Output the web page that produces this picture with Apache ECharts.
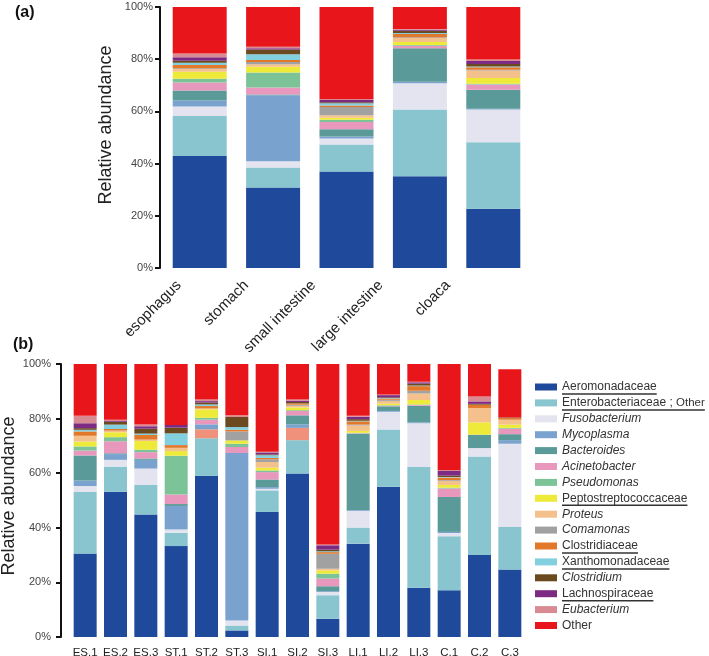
<!DOCTYPE html>
<html><head><meta charset="utf-8">
<script src="https://cdn.jsdelivr.net/npm/echarts@6/dist/echarts.min.js"></script>
<style>html,body{margin:0;padding:0;background:#fff}#c{width:709px;height:656px}</style>
</head><body><div id="c"></div>
<script>
// ---------- categories ----------
const organs = ['esophagus', 'stomach', 'small intestine', 'large intestine', 'cloaca'];
const samples = ['ES.1','ES.2','ES.3','ST.1','ST.2','ST.3','SI.1','SI.2','SI.3','LI.1','LI.2','LI.3','C.1','C.2','C.3'];
const yTicks = [0, 20, 40, 60, 80, 100];

// ---------- panel (a) values (% per organ) ----------
const aeromonadaceaeA     = [42.9, 30.8, 37.0, 35.2, 22.7];
const enterobacteriaceaeA = [15.3, 7.7, 10.3, 25.5, 25.5];
const fusobacteriumA      = [3.7, 2.4, 2.3, 10.1, 12.5];
const unlabeledA          = [0, 0, 0, 0, 0];
const mycoplasmaA         = [2.3, 25.3, 0.8, 0.6, 0.3];
const bacteroidesA        = [3.8, 0.3, 2.8, 12.8, 7.3];
const acinetobacterA      = [3.1, 2.7, 2.7, 1.0, 2.0];
const pseudomonasA        = [1.4, 5.7, 0.9, 0.2, 0.3];
const peptostreptoA       = [2.7, 2.2, 0.8, 1.2, 2.2];
const proteusA            = [1.0, 1.0, 0.9, 1.5, 2.9];
const comamonasA          = [0.3, 0.8, 3.2, 0.3, 0.3];
const clostridiaceaeA     = [1.3, 0.8, 0.6, 1.3, 0.9];
const xanthomonadaceaeA   = [0.8, 2.2, 0.8, 0.3, 0.3];
const clostridiumA        = [0.8, 1.8, 0.4, 0.9, 1.0];
const lachnospiraceaeA    = [1.3, 0.5, 1.0, 0.4, 1.1];
const eubacteriumA        = [1.5, 0.6, 0.2, 0.3, 0.6];
const otherA              = [17.8, 15.2, 35.3, 8.4, 20.1];

// ---------- panel (b) values (% per sample) ----------
const aeromonadaceaeB     = [30.6, 53.2, 44.9, 33.3, 59.0, 2.4, 45.8, 59.9, 6.7, 34.2, 55.0, 18.0, 17.1, 30.0, 24.7];
const enterobacteriaceaeB = [22.6, 9.2, 10.8, 4.9, 13.8, 1.8, 7.9, 12.2, 8.6, 5.9, 21.0, 44.3, 19.8, 36.1, 15.6];
const fusobacteriumB      = [2.1, 2.5, 6.0, 1.2, 0, 1.8, 0.6, 0, 1.2, 6.1, 6.5, 16.0, 1.2, 3.1, 30.5];
const unlabeledB          = [0, 0, 0, 0, 3.3, 0, 0, 4.5, 0, 0, 0, 0, 0, 0, 0];
const mycoplasmaB         = [2.0, 2.1, 3.2, 8.6, 1.8, 61.4, 0.6, 1.3, 0.3, 0.3, 0.3, 0.3, 0.4, 0, 1.3];
const bacteroidesB        = [9.2, 0.3, 0.5, 0.7, 0, 0, 2.8, 3.3, 1.8, 27.9, 1.7, 6.1, 12.8, 4.9, 2.2];
const acinetobacterB      = [1.8, 4.4, 2.3, 3.5, 1.7, 2.2, 2.7, 1.6, 2.8, 0.2, 0.2, 0.3, 3.1, 0, 2.0];
const pseudomonasB        = [1.5, 1.5, 0.9, 14.2, 0.7, 1.2, 0.6, 0.3, 1.8, 0.2, 0.2, 0.2, 0.3, 0, 0.3];
const peptostreptoB       = [1.8, 1.8, 3.2, 1.7, 3.1, 1.2, 1.0, 1.0, 1.2, 0.7, 0.6, 1.6, 1.0, 4.5, 1.2];
const proteusB            = [2.1, 0.6, 0.5, 1.2, 0.3, 0, 2.1, 0.6, 0.6, 2.0, 1.0, 2.4, 1.5, 5.3, 1.8];
const comamonasB          = [0, 0, 0, 0, 0, 3.3, 1.0, 0.4, 5.5, 0.3, 0.4, 1.0, 0.3, 0, 0];
const clostridiaceaeB     = [1.6, 0.6, 1.7, 1.0, 0.9, 0.6, 0.5, 0.5, 0.6, 1.2, 0.4, 1.7, 0.9, 1.2, 0.6];
const xanthomonadaceaeB   = [0.6, 1.6, 0.5, 4.3, 0.6, 1.0, 1.0, 0, 0.3, 0.2, 0.2, 0.2, 0.2, 0, 0];
const clostridiumB        = [0.6, 1.0, 1.8, 2.1, 0.7, 3.7, 0.3, 0.5, 0.6, 0.6, 0.3, 0.7, 0.5, 0.3, 0.2];
const lachnospiraceaeB    = [1.8, 0.3, 0.9, 1.0, 0.5, 0, 0.7, 0.5, 1.6, 0.9, 0.8, 0.5, 1.8, 0.9, 0];
const eubacteriumB        = [2.7, 0.5, 0.6, 0, 0.6, 0.6, 0.3, 0.4, 0.3, 0.3, 0.2, 0.2, 0.2, 1.8, 0];
const otherB              = [19.0, 20.4, 22.2, 22.3, 13.0, 18.8, 32.1, 13.0, 66.1, 19.0, 11.2, 6.5, 38.9, 11.9, 17.7];

// ---------- layers (bottom to top) ----------
const layers = [
  {name: 'Aeromonadaceae',             color: '#1f4a9b', a: aeromonadaceaeA,     b: aeromonadaceaeB},
  {name: 'Enterobacteriaceae ; Other', color: '#89c5cf', a: enterobacteriaceaeA, b: enterobacteriaceaeB},
  {name: 'Fusobacterium',              color: '#e4e3f0', a: fusobacteriumA,      b: fusobacteriumB},
  {name: 'Unlabeled',                  color: '#f0917c', a: unlabeledA,          b: unlabeledB, noLegend: true},
  {name: 'Mycoplasma',                 color: '#79a2cf', a: mycoplasmaA,         b: mycoplasmaB},
  {name: 'Bacteroides',                color: '#5a9a98', a: bacteroidesA,        b: bacteroidesB},
  {name: 'Acinetobacter',              color: '#e897bd', a: acinetobacterA,      b: acinetobacterB},
  {name: 'Pseudomonas',                color: '#7cc497', a: pseudomonasA,        b: pseudomonasB},
  {name: 'Peptostreptococcaceae',      color: '#eeea3a', a: peptostreptoA,       b: peptostreptoB},
  {name: 'Proteus',                    color: '#f4c08c', a: proteusA,            b: proteusB},
  {name: 'Comamonas',                  color: '#a1a1a1', a: comamonasA,          b: comamonasB},
  {name: 'Clostridiaceae',             color: '#e2782a', a: clostridiaceaeA,     b: clostridiaceaeB},
  {name: 'Xanthomonadaceae',           color: '#82cfe0', a: xanthomonadaceaeA,   b: xanthomonadaceaeB},
  {name: 'Clostridium',                color: '#6b4a1f', a: clostridiumA,        b: clostridiumB},
  {name: 'Lachnospiraceae',            color: '#7d2a83', a: lachnospiraceaeA,    b: lachnospiraceaeB},
  {name: 'Eubacterium',                color: '#d98b94', a: eubacteriumA,        b: eubacteriumB},
  {name: 'Other',                      color: '#e8161b', a: otherA,              b: otherB}
];

const italicNames = ['Fusobacterium','Mycoplasma','Bacteroides','Acinetobacter','Pseudomonas','Proteus','Comamonas','Clostridium','Eubacterium'];
const underlinedNames = ['Aeromonadaceae','Enterobacteriaceae ; Other','Peptostreptococcaceae','Clostridiaceae','Xanthomonadaceae','Lachnospiraceae'];

const FONT = '"Liberation Sans", Arial, Helvetica, sans-serif';
const chart = echarts.init(document.getElementById('c'), null, {renderer: 'canvas'});

const series = [];
layers.forEach(l => {
  series.push({type: 'bar', name: l.name, data: l.a, stack: 'a', xAxisIndex: 0, yAxisIndex: 0,
    barWidth: 54, itemStyle: {color: l.color}, emphasis: {disabled: true}});
  series.push({type: 'bar', name: l.name, data: l.b, stack: 'b', xAxisIndex: 1, yAxisIndex: 1,
    barWidth: 23, itemStyle: {color: l.color}, emphasis: {disabled: true}});
});

// legend layout
const LEG_LEFT = 535, LEG_TOP = 380, LEG_IW = 22, LEG_LH = 14, LEG_GAP = 1.9;
const legendNames = layers.filter(l => !l.noLegend).map(l => l.name);

// underline graphics
const cv = document.createElement('canvas').getContext('2d');
function tw(txt, size, style) { cv.font = (style || '') + ' ' + size + 'px ' + FONT; return cv.measureText(txt).width; }
const graphics = [];
legendNames.forEach((n, i) => {
  if (underlinedNames.indexOf(n) < 0) return;
  let w;
  if (n === 'Enterobacteriaceae ; Other') w = tw('Enterobacteriaceae ; ', 12) + tw('Other', 11.5);
  else w = tw(n, 12);
  const x0 = LEG_LEFT + LEG_IW + 5;
  const yc = LEG_TOP + i * (LEG_LH + LEG_GAP) + LEG_LH / 2;
  graphics.push({type: 'line', silent: true, shape: {x1: x0, y1: yc + 7, x2: x0 + w, y2: yc + 7},
    style: {stroke: '#333', lineWidth: 1.5}});
});

const yLabelStyle = {formatter: '{value}%', fontSize: 11, color: '#444', fontFamily: FONT};

const option = {
  animation: false,
  backgroundColor: '#fff',
  title: [
    {text: '(a)', left: 10, top: 0, textStyle: {fontSize: 16, fontWeight: 'bold', color: '#111', fontFamily: FONT}},
    {text: '(b)', left: 8, top: 332, textStyle: {fontSize: 16, fontWeight: 'bold', color: '#111', fontFamily: FONT}}
  ],
  grid: [
    {left: 163, top: 7, width: 367, height: 261, outerBoundsMode: 'none'},
    {left: 70, top: 364, width: 455, height: 273, outerBoundsMode: 'none'},
    {left: 145.3, top: 270, width: 336.3, height: 1, outerBoundsMode: 'none'}
  ],
  xAxis: [
    {type: 'category', gridIndex: 0, data: organs, axisLine: {show: false}, axisTick: {show: false}, axisLabel: {show: false}},
    {type: 'category', gridIndex: 1, data: samples, axisLine: {show: false}, axisTick: {show: false},
      axisLabel: {margin: 10, fontSize: 11.5, color: '#222', fontFamily: FONT, interval: 0}},
    {type: 'category', gridIndex: 2, data: organs, axisLine: {show: false}, axisTick: {show: false},
      axisLabel: {rotate: 45, margin: 12, fontSize: 15, color: '#222', fontFamily: FONT, interval: 0}}
  ],
  yAxis: [
    {type: 'value', gridIndex: 0, min: yTicks[0], max: yTicks[yTicks.length - 1], interval: 20, offset: 3,
      axisLine: {show: true, lineStyle: {color: '#111', width: 2}},
      axisTick: {show: true, length: 5, lineStyle: {color: '#111', width: 2}},
      splitLine: {show: false},
      axisLabel: Object.assign({margin: 7}, yLabelStyle),
      name: 'Relative abundance', nameLocation: 'middle', nameGap: 45, nameMoveOverlap: false,
      nameTextStyle: {fontSize: 18, color: '#222', fontFamily: FONT, padding: [0, 0, 0, 25]}},
    {type: 'value', gridIndex: 1, min: yTicks[0], max: yTicks[yTicks.length - 1], interval: 20, offset: 9,
      axisLine: {show: true, lineStyle: {color: '#111', width: 2}},
      axisTick: {show: true, length: 5, lineStyle: {color: '#111', width: 2}},
      splitLine: {show: false},
      axisLabel: Object.assign({margin: 10}, yLabelStyle),
      name: 'Relative abundance', nameLocation: 'middle', nameGap: 43, nameMoveOverlap: false,
      nameTextStyle: {fontSize: 18, color: '#222', fontFamily: FONT, padding: [0, 0, 0, 9]}},
    {type: 'value', gridIndex: 2, show: false}
  ],
  legend: {
    data: legendNames, orient: 'vertical', left: LEG_LEFT, top: LEG_TOP, padding: 0,
    itemWidth: LEG_IW, itemHeight: 7, itemGap: LEG_GAP, icon: 'rect', selectedMode: false,
    formatter: function (name) {
      if (name === 'Enterobacteriaceae ; Other') return '{n|Enterobacteriaceae ;} {s|Other}';
      if (italicNames.indexOf(name) >= 0) return '{i|' + name + '}';
      return '{n|' + name + '}';
    },
    textStyle: {
      fontFamily: FONT, fontSize: 12, color: '#333', lineHeight: LEG_LH,
      rich: {
        n: {fontSize: 12, color: '#333', fontFamily: FONT, lineHeight: LEG_LH},
        i: {fontSize: 12, color: '#333', fontStyle: 'italic', fontFamily: FONT, lineHeight: LEG_LH},
        s: {fontSize: 11.5, color: '#333', fontFamily: FONT, lineHeight: LEG_LH}
      }
    }
  },
  graphic: graphics,
  series: series
};
chart.setOption(option);
</script>
</body></html>
